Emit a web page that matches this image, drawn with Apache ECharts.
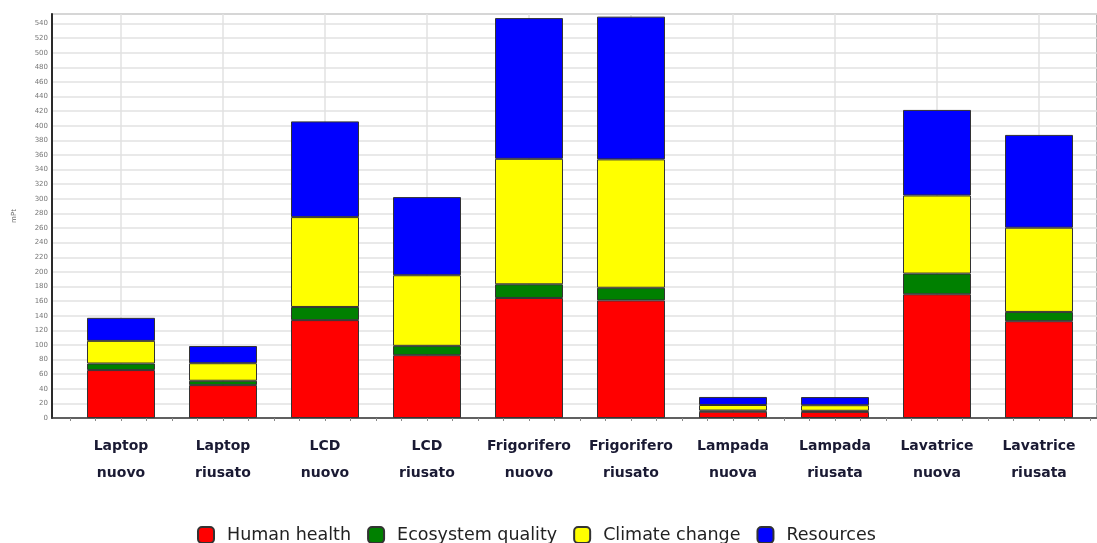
<!DOCTYPE html>
<html>
<head>
<meta charset="utf-8">
<script src="https://cdn.jsdelivr.net/npm/echarts@6/dist/echarts.min.js"></script>
<style>html,body{margin:0;padding:0;background:#fff}#c{width:1097px;height:543px}</style>
</head>
<body>
<div id="c"></div>
<script>
const categories = ['Laptop\nnuovo','Laptop\nriusato','LCD\nnuovo','LCD\nriusato','Frigorifero\nnuovo','Frigorifero\nriusato','Lampada\nnuova','Lampada\nriusata','Lavatrice\nnuova','Lavatrice\nriusata'];
const humanHealth = [65.6, 45, 134, 86, 164.3, 161, 8.6, 8.4, 169.4, 132.5];
const ecosystemQuality = [9, 6, 18, 12.8, 18.7, 17.3, 1.6, 1.5, 28.3, 12.7];
const climateChange = [31, 24, 123, 96.6, 171.8, 175.7, 7.6, 7.6, 106.9, 115.3];
const resources = [31.5, 23.5, 131, 107, 192.6, 195.4, 11, 11.2, 117.1, 127];
const seriesNames = ['Human health','Ecosystem quality','Climate change','Resources'];
const seriesColors = ['#ff0000','#008000','#ffff00','#0000ff'];
const yMax = 553, yStep = 20;

const chart = echarts.init(document.getElementById('c'), null, {renderer:'canvas'});
const allData = [humanHealth, ecosystemQuality, climateChange, resources];
const series = allData.map((d, i) => ({
  name: seriesNames[i], type: 'bar', stack: 'total', data: d,
  xAxisIndex: 1, yAxisIndex: 1, barWidth: 68,
  itemStyle: {color: seriesColors[i], borderColor: '#333', borderWidth: 1},
  emphasis: {disabled: true}
}));

chart.setOption({
  animation: false,
  grid: [
    {left: 52, right: -3, top: 14, bottom: 125, show: true, borderColor: '#9a9a9a', borderWidth: 1.5},
    {left: 70, width: 1020, top: 14, bottom: 125}
  ],
  legend: {
    data: seriesNames, left: 192, top: 521, icon: 'roundRect',
    itemWidth: 16, itemHeight: 16, itemGap: 16,
    textStyle: {fontFamily: 'DejaVu Sans', fontSize: 17.5, color: '#222', padding: [0,0,0,8]}
  },
  xAxis: [
    {type: 'value', gridIndex: 0, min: 0, max: 1, axisLine: {show: true, lineStyle: {color: '#3a3a3a', width: 1.5}},
     axisTick: {show: false}, axisLabel: {show: false}, splitLine: {show: false}},
    {type: 'category', gridIndex: 1, data: categories, axisLine: {show: false}, axisTick: {show: false},
     axisLabel: {interval: 0, margin: 15, fontFamily: 'DejaVu Sans', fontWeight: 'bold', fontSize: 14, color: '#1a1a33', lineHeight: 27},
     splitLine: {show: true, interval: 0, alignWithLabel: true, lineStyle: {color: '#e2e2e2', width: 1.5}}},
    {type: 'value', gridIndex: 1, min: 0, max: 40, interval: 1, position: 'bottom',
     axisLine: {show: false}, axisTick: {show: true, length: 3, lineStyle: {color: '#888'}},
     axisLabel: {show: false}, splitLine: {show: false}}
  ],
  yAxis: [
    {type: 'value', gridIndex: 0, min: 0, max: yMax, interval: yStep,
     name: 'mPt', nameLocation: 'middle', nameGap: 34, nameTextStyle: {fontSize: 7, color: '#666', fontFamily: 'DejaVu Sans'},
     axisLine: {show: true, lineStyle: {color: '#2a2a2a', width: 2}}, axisTick: {show: false},
     axisLabel: {margin: 4, fontSize: 7, color: '#777', fontFamily: 'DejaVu Sans',
       formatter: v => (v % yStep === 0 ? String(v) : '')},
     splitLine: {show: true, lineStyle: {color: '#e2e2e2', width: 1.5}}},
    {type: 'value', gridIndex: 1, min: 0, max: yMax, show: false, splitLine: {show: false}}
  ],
  series: series
});
</script>
</body>
</html>
